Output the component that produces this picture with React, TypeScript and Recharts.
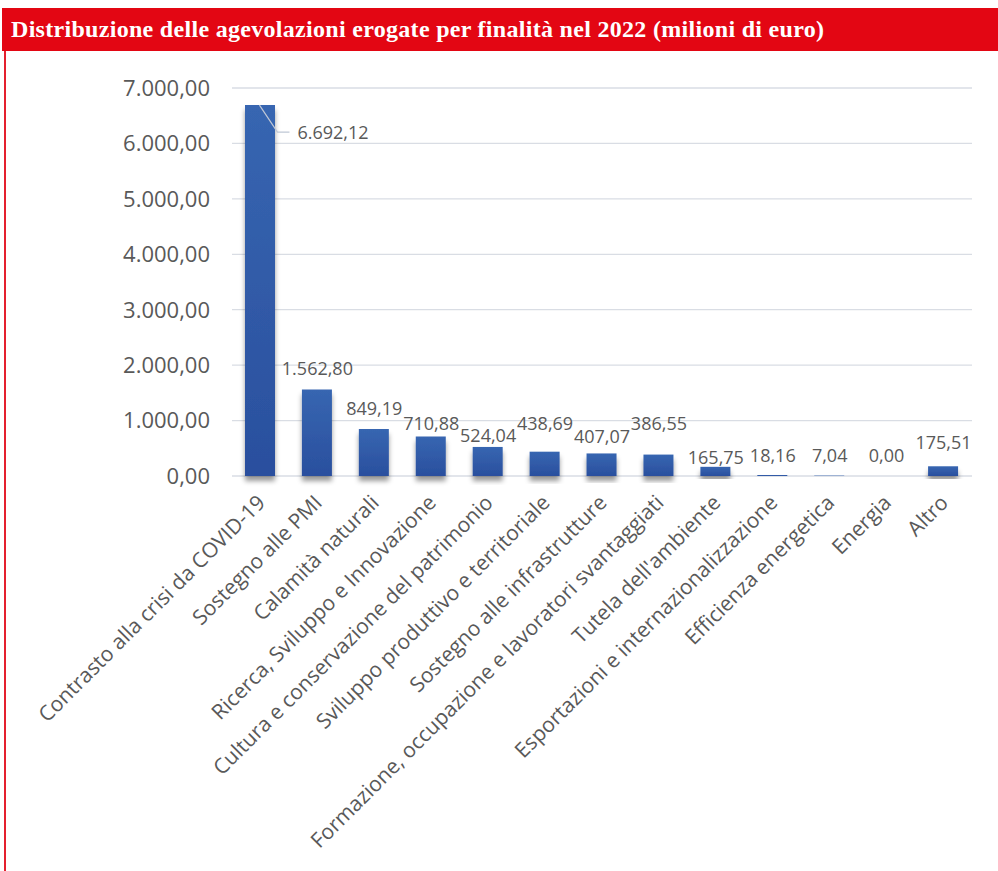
import { Bar, ComposedChart, CartesianGrid, LabelList, Line, XAxis, YAxis } from 'recharts'

const CATEGORIES = [
  'Contrasto alla crisi da COVID-19',
  'Sostegno alle PMI',
  'Calamità naturali',
  'Ricerca, Sviluppo e Innovazione',
  'Cultura e conservazione del patrimonio',
  'Sviluppo produttivo e territoriale',
  'Sostegno alle infrastrutture',
  'Formazione, occupazione e lavoratori svantaggiati',
  "Tutela dell'ambiente",
  'Esportazioni e internazionalizzazione',
  'Efficienza energetica',
  'Energia',
  'Altro',
]

const VALUES = [6692.12, 1562.8, 849.19, 710.88, 524.04, 438.69, 407.07, 386.55, 165.75, 18.16, 7.04, 0, 175.51]

const Y_TICKS = [0, 1000, 2000, 3000, 4000, 5000, 6000, 7000]

// how far each value label sits above its bar (Excel staggered them by hand)
const LABEL_LIFT = [0, 14, 14, 7, 5, 22, 10, 25, 3, 13, 14, 14, 17]

const data = CATEGORIES.map((name, i) => ({ name, value: VALUES[i] }))

const TEXT = '#595959'
const FONT = '"Open Sans", "Noto Sans", sans-serif'

function fmt(v: number): string {
  const [int, dec] = v.toFixed(2).split('.')
  return int.replace(/\B(?=(\d{3})+(?!\d))/g, '.') + ',' + dec
}

function XTick({ x, y, payload }: any) {
  return (
    <text
      x={x + 6}
      y={y + 20}
      transform={`rotate(-45 ${x + 6} ${y + 20})`}
      textAnchor="end"
      fill={TEXT}
      fontSize={21}
      fontFamily={FONT}
    >
      {payload.value}
    </text>
  )
}

// labels hang off an invisible line so that the zero value gets one too
function ValueLabel({ x, y, value, index }: any) {
  if (index === 0) {
    return (
      <g>
        <polyline
          points={`${x - 1},${y} ${x + 17},${y + 27} ${x + 29},${y + 27}`}
          fill="none"
          stroke="#BFC7D5"
          strokeWidth={1.2}
        />
        <text x={x + 37} y={y + 34} fill={TEXT} fontSize={18} fontFamily={FONT}>
          {fmt(value)}
        </text>
      </g>
    )
  }
  return (
    <text
      x={x}
      y={y - LABEL_LIFT[index]}
      textAnchor="middle"
      fill={TEXT}
      fontSize={18}
      fontFamily={FONT}
    >
      {fmt(value)}
    </text>
  )
}

export default function App() {
  return (
    <div style={{ position: 'absolute', left: 0, top: 0, width: 998, height: 871, background: '#fff' }}>
      <ComposedChart
        width={998}
        height={871}
        data={data}
        margin={{ top: 88, right: 26, left: 0, bottom: 0 }}
      >
        <defs>
          <linearGradient id="barFill" x1="0" y1="0" x2="0" y2="1">
            <stop offset="0%" stopColor="#3766B1" />
            <stop offset="100%" stopColor="#2A4F9E" />
          </linearGradient>
          <filter id="barShadow" x="-30%" y="-10%" width="160%" height="140%">
            <feDropShadow dx="0" dy="5" stdDeviation="2.5" floodColor="#000" floodOpacity="0.4" />
          </filter>
        </defs>
        <CartesianGrid vertical={false} stroke="#D9DDE4" strokeWidth={1.3} />
        <XAxis
          dataKey="name"
          interval={0}
          height={395}
          axisLine={false}
          tickLine={false}
          tick={<XTick />}
        />
        <YAxis
          width={232}
          domain={[0, 7000]}
          ticks={Y_TICKS}
          interval={0}
          axisLine={false}
          tickLine={false}
          tickSize={0}
          tickMargin={22}
          tickFormatter={fmt}
          tick={{ fill: TEXT, fontSize: 22, fontFamily: FONT }}
        />
        <Bar
          dataKey="value"
          barSize={30}
          fill="url(#barFill)"
          filter="url(#barShadow)"
          isAnimationActive={false}
        />
        <Line
          dataKey="value"
          stroke="none"
          dot={false}
          activeDot={false}
          isAnimationActive={false}
        >
          <LabelList dataKey="value" content={<ValueLabel />} />
        </Line>
      </ComposedChart>
      <div
        style={{
          position: 'absolute',
          left: 2,
          top: 8,
          width: 996,
          height: 43,
          background: '#E30613',
          color: '#fff',
          fontFamily: '"Liberation Serif", "DejaVu Serif", serif',
          fontWeight: 700,
          fontSize: 24,
          letterSpacing: 0.3,
          lineHeight: '43px',
          paddingLeft: 9,
          boxSizing: 'border-box',
          whiteSpace: 'nowrap',
        }}
      >
        Distribuzione delle agevolazioni erogate per finalità nel 2022 (milioni di euro)
      </div>
      <div style={{ position: 'absolute', left: 4, top: 51, width: 2, height: 820, background: '#E4202E' }} />
    </div>
  )
}
